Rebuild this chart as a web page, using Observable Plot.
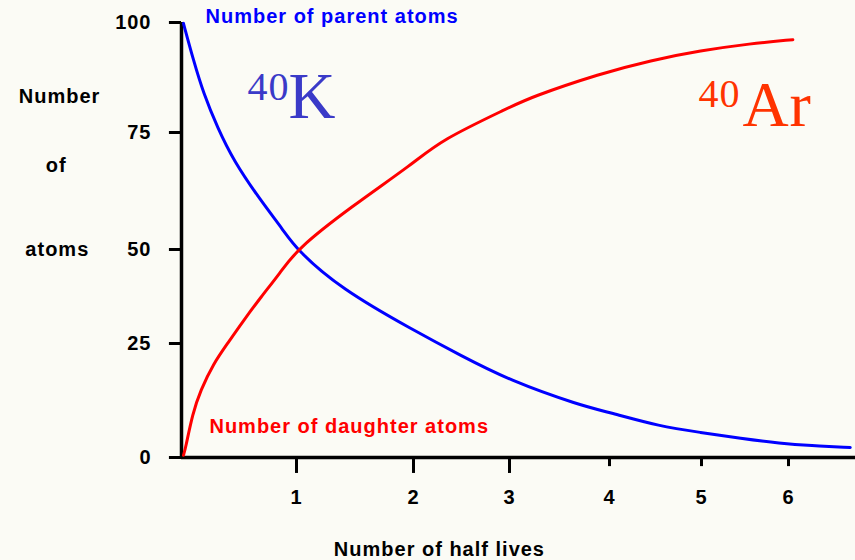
<!DOCTYPE html>
<html>
<head>
<meta charset="utf-8">
<script src="https://cdn.jsdelivr.net/npm/d3@7"></script>
<script src="https://cdn.jsdelivr.net/npm/@observablehq/plot@0.6"></script>
<style>
  html, body { margin: 0; padding: 0; background: #fbfbf5; }
  #chart { width: 855px; height: 560px; overflow: hidden; }
</style>
</head>
<body>
<div id="chart"></div>
<script>
// ---- data ----
const parentHalfLives = [0.017, 0.104, 0.191, 0.313, 0.452, 0.687, 0.887, 1.0, 1.376, 2.0, 2.49, 3.0, 3.71, 4.0, 4.55, 4.99, 5.45, 5.91, 6.25, 6.71];
const parentAtoms     = [99.8, 91.4, 83.9, 76.1, 69.0, 60.5, 54.1, 50.0, 39.6, 28.5, 22.4, 16.9, 11.4, 9.9, 6.8, 5.5, 4.2, 3.1, 2.6, 2.2];

const daughterHalfLives = [0.017, 0.035, 0.096, 0.165, 0.278, 0.4, 0.539, 0.687, 0.861, 1.0, 1.46, 2.0, 2.28, 3.0, 3.21, 3.91, 4.45, 4.99, 5.56, 6.05];
const daughterAtoms     = [0.5, 2.0, 9.6, 14.7, 20.6, 25.0, 31.1, 37.2, 43.9, 50.0, 59.0, 68.4, 73.3, 80.7, 83.0, 88.4, 91.4, 93.6, 95.2, 96.1];

const yTicks = [0, 25, 50, 75, 100];
const xTicksLong = [1, 2, 3];
const xTicksShort = [4, 5, 6];
const xTickLabels = ["1", "2", "3", "4", "5", "6"];
const yTitleLines = ["Number", "of", "atoms"];
const xTitle = "Number of half lives";
const parentLabel = "Number of parent atoms";
const daughterLabel = "Number of daughter atoms";

const parent = parentHalfLives.map((x, i) => ({x, y: parentAtoms[i]}));
const daughter = daughterHalfLives.map((x, i) => ({x, y: daughterAtoms[i]}));
const xLabelRows = xTickLabels.map((t, i) => ({x: i + 1, t}));

const sans = "'Liberation Sans', Arial, Helvetica, sans-serif";
const serif = "'Liberation Serif', 'Times New Roman', serif";

// the original hand-drawn axes are not evenly spaced: piecewise-linear scale transforms
const xWarp = d3.scaleLinear([0, 1, 2, 3, 4, 5, 6, 7], [181, 296, 413, 509, 609, 701, 788, 875]);
const yWarp = d3.scaleLinear([0, 25, 50, 75, 100], [457, 343, 249, 132, 22]);

const chart = Plot.plot({
  width: 855,
  height: 560,
  marginLeft: 180,
  marginRight: 0,
  marginTop: 22,
  marginBottom: 103,
  style: {
    background: "#fbfbf5",
    fontFamily: sans,
    fontSize: "20px",
    fontWeight: "bold",
    letterSpacing: "1px",
    color: "black"
  },
  x: {type: "linear", transform: xWarp, domain: [0, 855], range: [0, 855], axis: null},
  y: {type: "linear", transform: yWarp, domain: [0, 560], range: [0, 560], axis: null},
  marks: [
    // axis lines
    Plot.ruleY([0], {y: d => d, x1: 0, x2: 7, stroke: "black", strokeWidth: 3.5}),
    Plot.ruleX([0], {x: d => d, y1: 0, y2: 100, stroke: "black", strokeWidth: 3.5}),
    // y ticks (pointing left) and labels
    Plot.ruleY(yTicks, {y: d => d, x1: -0.105, x2: 0, stroke: "black", strokeWidth: 3}),
    Plot.text(yTicks, {x: 0, y: d => d, text: d => String(d), textAnchor: "end", lineAnchor: "middle", dx: -30, fill: "black"}),
    // x ticks (long for 1–3, short for 4–6) and labels
    Plot.ruleX(xTicksLong, {x: d => d, y1: 0, y2: -3.5, stroke: "black", strokeWidth: 3}),
    Plot.ruleX(xTicksShort, {x: d => d, y1: 0, y2: -2.0, stroke: "black", strokeWidth: 3}),
    Plot.text(xLabelRows, {x: "x", y: -10.1, text: "t", lineAnchor: "bottom", textAnchor: "middle", fill: "black"}),
    // axis titles
    Plot.text([xTitle], {x: 2.27, y: -21.5, text: d => d, lineAnchor: "bottom", textAnchor: "middle", fill: "black"}),
    Plot.text([yTitleLines[0]], {x: -1.06, y: 81.6, text: d => d, lineAnchor: "bottom", textAnchor: "middle", fill: "black"}),
    Plot.text([yTitleLines[1]], {x: -1.09, y: 66.5, text: d => d, lineAnchor: "bottom", textAnchor: "middle", fill: "black"}),
    Plot.text([yTitleLines[2]], {x: -1.08, y: 48.4, text: d => d, lineAnchor: "bottom", textAnchor: "middle", fill: "black"}),
    // curves
    Plot.line(parent, {x: "x", y: "y", stroke: "#0000ff", strokeWidth: 3, curve: "basis"}),
    Plot.line(daughter, {x: "x", y: "y", stroke: "#ff0000", strokeWidth: 3, curve: "basis"}),
    // curve labels
    Plot.text([parentLabel], {x: 0.209, y: 100, text: d => d, lineAnchor: "bottom", textAnchor: "start", fill: "#0000ff"}),
    Plot.text([daughterLabel], {x: 0.243, y: 5.3, text: d => d, lineAnchor: "bottom", textAnchor: "start", fill: "#ff0000"}),
    // isotope annotations
    Plot.text(["40"], {x: 0.574, y: 82.3, text: d => d, lineAnchor: "bottom", textAnchor: "start", fill: "#3a3ac8", fontFamily: serif, fontWeight: "normal", fontSize: 40}),
    Plot.text(["K"], {x: 0.93, y: 78.2, text: d => d, lineAnchor: "bottom", textAnchor: "start", fill: "#3a3ac8", fontFamily: serif, fontWeight: "normal", fontSize: 65}),
    Plot.text(["40"], {x: 4.967, y: 80.7, text: d => d, lineAnchor: "bottom", textAnchor: "start", fill: "#ff3300", fontFamily: serif, fontWeight: "normal", fontSize: 40}),
    Plot.text(["Ar"], {x: 5.47, y: 76.4, text: d => d, lineAnchor: "bottom", textAnchor: "start", fill: "#ff3300", fontFamily: serif, fontWeight: "normal", fontSize: 64})
  ]
});
document.getElementById("chart").appendChild(chart);
</script>
</body>
</html>
